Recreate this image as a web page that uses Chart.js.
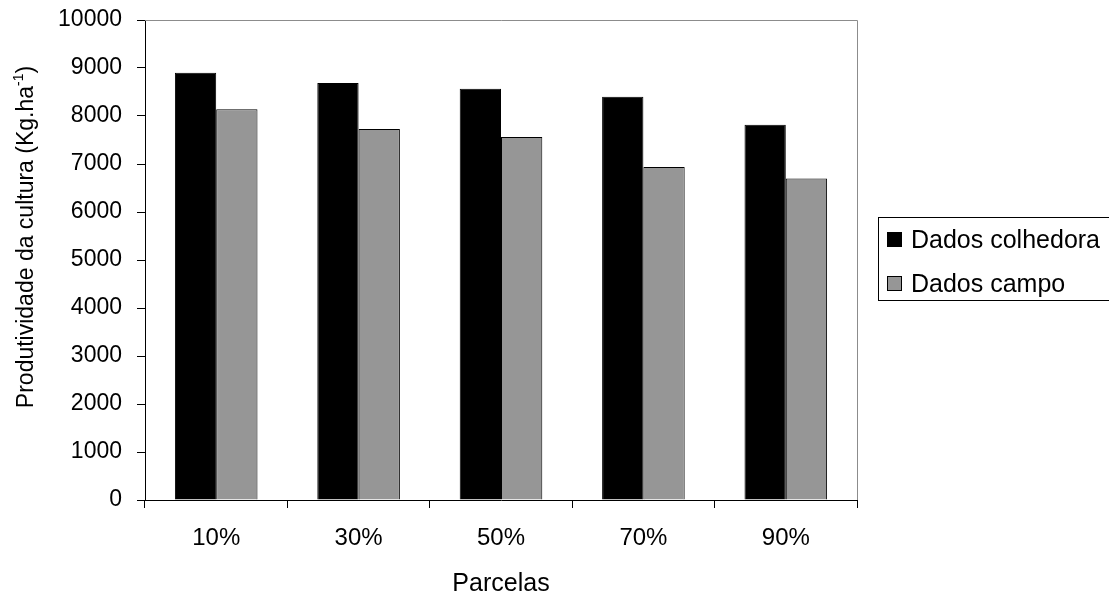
<!DOCTYPE html>
<html>
<head>
<meta charset="utf-8">
<title>Produtividade da cultura</title>
<script src="https://cdn.jsdelivr.net/npm/chart.js@4.4.1/dist/chart.umd.min.js"></script>
<style>
  html, body { margin: 0; padding: 0; background: #fff; }
  #wrap { width: 1109px; height: 599px; }
</style>
</head>
<body>
<div id="wrap"><canvas id="barras"></canvas></div>
<script>
// parcelas e produtividade (kg/ha)
var parcelas = ['10%', '30%', '50%', '70%', '90%'];
var colhedora = [8900, 8690, 8570, 8400, 7820];
var campo = [8140, 7730, 7560, 6940, 6700];
var yTicks = [0, 1000, 2000, 3000, 4000, 5000, 6000, 7000, 8000, 9000, 10000];

var fonte = '"Liberation Sans", Arial, sans-serif';

// moldura cinza (topo e direita) da area do grafico
var moldura = {
    id: 'moldura',
    beforeDatasetsDraw: function (chart) {
        var a = chart.chartArea, c = chart.ctx;
        c.save();
        c.strokeStyle = '#8c8c8c';
        c.lineWidth = 1;
        c.beginPath();
        c.moveTo(a.left, a.top + 0.5);
        c.lineTo(a.right + 0.5, a.top + 0.5);
        c.lineTo(a.right + 0.5, a.bottom);
        c.stroke();
        c.restore();
    }
};

// titulo do eixo y com expoente e legenda com caixa
var extras = {
    id: 'extras',
    afterDraw: function (chart) {
        var c = chart.ctx;
        c.save();
        c.fillStyle = '#000';
        c.translate(33, 237);
        c.rotate(-Math.PI / 2);
        c.textBaseline = 'alphabetic';
        var t1 = 'Produtividade da cultura (Kg.ha', t2 = '-1', t3 = ')';
        c.font = '23px ' + fonte;
        var w1 = c.measureText(t1).width, w3 = c.measureText(t3).width;
        c.font = '14px ' + fonte;
        var w2 = c.measureText(t2).width;
        var x = -(w1 + w2 + w3) / 2;
        c.font = '23px ' + fonte;
        c.fillText(t1, x, 0);
        c.font = '14px ' + fonte;
        c.fillText(t2, x + w1, -10);
        c.font = '23px ' + fonte;
        c.fillText(t3, x + w1 + w2, 0);
        c.restore();

        // legenda
        c.save();
        c.strokeStyle = '#000';
        c.lineWidth = 1;
        c.strokeRect(878.5, 217.5, 240, 83);
        c.font = '25px ' + fonte;
        c.textBaseline = 'alphabetic';
        chart.data.datasets.forEach(function (ds, i) {
            var y = 232.5 + i * 44;
            c.fillStyle = ds.backgroundColor;
            c.fillRect(887.5, y, 14, 14);
            c.strokeRect(887.5, y, 14, 14);
            c.fillStyle = '#000';
            c.fillText(ds.label, 911, y + 15);
        });
        c.restore();
    }
};

new Chart(document.getElementById('barras'), {
    type: 'bar',
    data: {
        labels: parcelas,
        datasets: [
            {
                label: 'Dados colhedora',
                data: colhedora,
                backgroundColor: '#000000',
                borderColor: '#000000',
                borderWidth: 1,
                categoryPercentage: 0.58,
                barPercentage: 1
            },
            {
                label: 'Dados campo',
                data: campo,
                backgroundColor: '#969696',
                borderColor: '#000000',
                borderWidth: 1,
                categoryPercentage: 0.58,
                barPercentage: 1
            }
        ]
    },
    options: {
        responsive: true,
        maintainAspectRatio: false,
        animation: false,
        layout: { padding: { left: 0, top: 20, right: 252, bottom: 0 } },
        plugins: {
            legend: { display: false },
            tooltip: { enabled: false }
        },
        scales: {
            x: {
                afterFit: function (s) {
                    s.height = 99;
                    s.paddingLeft = 0;
                    s.paddingRight = 0;
                },
                grid: {
                    offset: true,
                    drawOnChartArea: false,
                    drawTicks: true,
                    tickLength: 8,
                    color: '#000'
                },
                border: { display: true, color: '#000', width: 1 },
                ticks: {
                    color: '#000',
                    padding: 16,
                    font: { family: fonte, size: 24 }
                },
                title: {
                    display: true,
                    text: 'Parcelas',
                    color: '#000',
                    padding: { top: 0, bottom: 0 },
                    font: { family: fonte, size: 25 }
                }
            },
            y: {
                min: 0,
                max: 10000,
                afterFit: function (s) {
                    s.width = 145;
                    s.paddingTop = 0;
                    s.paddingBottom = 0;
                },
                afterBuildTicks: function (s) {
                    s.ticks = yTicks.map(function (v) { return { value: v }; });
                },
                grid: {
                    drawOnChartArea: false,
                    drawTicks: true,
                    tickLength: 8,
                    color: '#000'
                },
                border: { display: true, color: '#000', width: 1 },
                ticks: {
                    color: '#000',
                    padding: 15,
                    font: { family: fonte, size: 23 },
                    callback: function (v) { return String(v); }
                }
            }
        }
    },
    plugins: [moldura, extras]
});
</script>
</body>
</html>
